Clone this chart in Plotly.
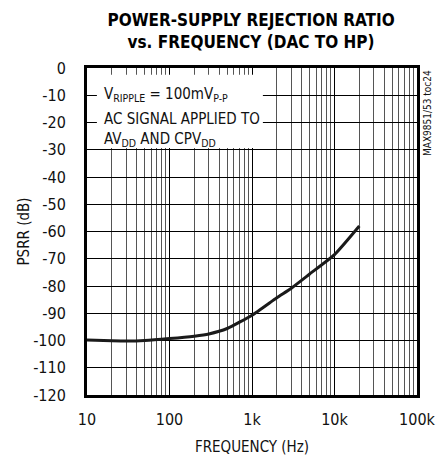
import plotly.graph_objects as go

# PSRR measurement, DAC to headphone output
freq_hz = [10, 20, 30, 50, 100, 200, 300, 500, 1000, 2000, 3000, 5000, 10000, 20000]
psrr_db = [-99.8, -100.1, -100.2, -100.0, -99.3, -98.4, -97.6, -95.6, -90.7, -84.3, -80.8, -75.6, -68.5, -58.0]

y_ticks = [0, -10, -20, -30, -40, -50, -60, -70, -80, -90, -100, -110, -120]
y_tick_text = ["0", "-10", "-20", "-30", "-40", "-50", "-60", "-70", "-80", "-90", "-100", "-110", "-120"]
x_ticks = [10, 100, 1000, 10000, 100000]
x_tick_text = ["10", "100", "1k", "10k", "100k"]
x_minor = [m * d for d in (10, 100, 1000, 10000) for m in range(2, 10)]

FONT = "DejaVu Sans Condensed, Liberation Sans Narrow, Liberation Sans, Arial, sans-serif"

fig = go.Figure()
fig.add_trace(go.Scatter(
    x=freq_hz, y=psrr_db, mode="lines",
    line=dict(color="#1a1a1a", width=3, shape="spline", smoothing=0.5),
    showlegend=False, hoverinfo="skip",
))

fig.update_layout(
    width=442, height=458,
    margin=dict(l=87, r=25, t=68, b=63),
    paper_bgcolor="white", plot_bgcolor="white",
    font=dict(family=FONT, size=15, color="#111"),
    title=dict(
        text="<b>POWER-SUPPLY REJECTION RATIO<br>vs. FREQUENCY (DAC TO HP)</b>",
        x=0.568, xanchor="center", y=0.943, yanchor="middle",
        font=dict(family=FONT, size=17, color="#000"),
    ),
    xaxis=dict(
        type="log", range=[1, 5], automargin=False,
        tickvals=x_ticks, ticktext=x_tick_text,
        showgrid=True, gridcolor="#000", gridwidth=1,
        minor=dict(tickvals=x_minor, showgrid=True, gridcolor="#555", gridwidth=1, ticks=""),
        showline=True, linecolor="#000", linewidth=3, mirror=True,
        ticks="", zeroline=False, ticklabelstandoff=8,
        tickfont=dict(family=FONT, size=16),
        title=dict(text="FREQUENCY (Hz)", font=dict(family=FONT, size=15), standoff=14),
    ),
    yaxis=dict(
        range=[-120, 0], automargin=False,
        tickvals=y_ticks, ticktext=y_tick_text,
        showgrid=True, gridcolor="#000", gridwidth=1,
        showline=True, linecolor="#000", linewidth=3, mirror=True,
        ticks="", zeroline=False, ticklabelstandoff=15,
        tickfont=dict(family=FONT, size=16),
        title=dict(text="PSRR (dB)", font=dict(family=FONT, size=15), standoff=0),
    ),
)

# White panel behind the test-condition note
fig.add_shape(type="rect", xref="paper", yref="paper",
              x0=0.03, x1=0.533, y0=0.755, y1=0.979,
              fillcolor="white", line=dict(width=0), layer="above")

note_lines = [
    ("V<sub>RIPPLE</sub> = 100mV<sub>P-P</sub>", 0.918),
    ("AC SIGNAL APPLIED TO", 0.843),
    ("AV<sub>DD</sub> AND CPV<sub>DD</sub>", 0.782),
]
for txt, yp in note_lines:
    fig.add_annotation(text=txt, xref="paper", yref="paper", x=0.045, y=yp,
                       xanchor="left", yanchor="middle", showarrow=False,
                       font=dict(family=FONT, size=15, color="#111"))

fig.add_annotation(text="MAX9851/53 toc24", xref="paper", yref="paper",
                   x=1.0, xshift=10, y=1.0, xanchor="center", yanchor="top",
                   textangle=-90, showarrow=False,
                   font=dict(family=FONT, size=10, color="#111"))

fig.write_html("out.html")
